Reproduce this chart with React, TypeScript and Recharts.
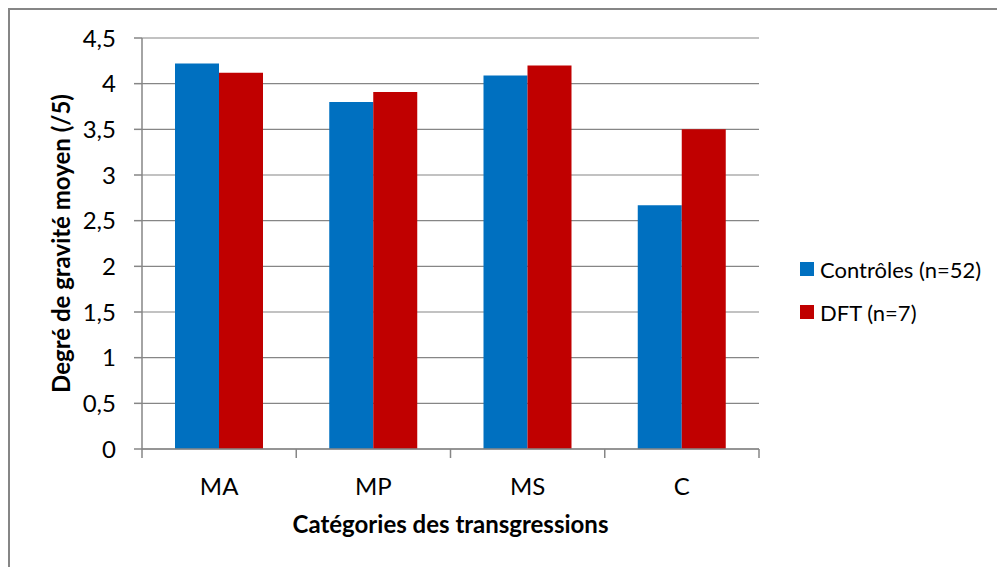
import React from 'react';
import { BarChart, Bar, XAxis, YAxis, CartesianGrid } from 'recharts';

const categories = ['MA', 'MP', 'MS', 'C'];
const controles = [4.22, 3.8, 4.09, 2.67];
const dft = [4.12, 3.91, 4.2, 3.5];
const yTicks = [0, 0.5, 1, 1.5, 2, 2.5, 3, 3.5, 4, 4.5];
// boundaries (integers) get a tick mark, centres (halves) get the category name
const xTicks = [0, 0.5, 1, 1.5, 2, 2.5, 3, 3.5, 4];

const seriesNames = ['Contrôles (n=52)', 'DFT (n=7)'];
const seriesColors = ['#0070C0', '#C00000'];

const data = categories.map((cat, i) => ({
  cat,
  idx: i + 0.5,
  controles: controles[i],
  dft: dft[i],
}));

const FONT = 'Lato, "Open Sans", sans-serif';
const AXIS_GREY = '#868686';
const AXIS_Y = 449;

const CatTick = (props: any) => {
  const { x, payload } = props;
  const v = payload.value as number;
  if (Number.isInteger(v)) {
    return <line x1={x} x2={x} y1={AXIS_Y} y2={AXIS_Y + 9} stroke={AXIS_GREY} strokeWidth={1.5} />;
  }
  return (
    <text
      x={x}
      y={AXIS_Y + 36}
      textAnchor="middle"
      dominantBaseline="central"
      fontFamily={FONT}
      fontSize={24}
      fill="#000"
    >
      {categories[Math.floor(v)]}
    </text>
  );
};

const YTitle = (props: any) => {
  const vb = props.viewBox || {};
  const cy = vb.y + vb.height / 2;
  const cx = 60;
  return (
    <text
      x={cx}
      y={cy}
      transform={`rotate(-90, ${cx}, ${cy})`}
      textAnchor="middle"
      dominantBaseline="central"
      fontFamily={FONT}
      fontWeight="bold"
      fontSize={24}
      fill="#000"
    >
      Degré de gravité moyen (/5)
    </text>
  );
};

const XTitle = (props: any) => {
  const vb = props.viewBox || {};
  return (
    <text
      x={vb.x + vb.width / 2}
      y={523}
      textAnchor="middle"
      dominantBaseline="central"
      fontFamily={FONT}
      fontWeight="bold"
      fontSize={24}
      fill="#000"
    >
      Catégories des transgressions
    </text>
  );
};

const App: React.FC = () => {
  return (
    <div
      style={{
        position: 'absolute',
        left: 0,
        top: 0,
        width: 997,
        height: 567,
        overflow: 'hidden',
        background: '#fff',
      }}
    >
      <div
        style={{
          position: 'absolute',
          left: 8,
          top: 8,
          width: 1100,
          height: 700,
          borderLeft: `2px solid ${AXIS_GREY}`,
          borderTop: `2px solid ${AXIS_GREY}`,
        }}
      />
      <BarChart
        width={997}
        height={567}
        data={data}
        margin={{ top: 38, right: 238, left: 82, bottom: 38 }}
        barGap={0}
        style={{ position: 'absolute', left: 0, top: 0 }}
      >
        <CartesianGrid
          horizontal={true}
          vertical={false}
          stroke={AXIS_GREY}
          strokeWidth={1.2}
        />
        <XAxis
          type="number"
          dataKey="idx"
          domain={[0, 4]}
          ticks={xTicks}
          interval={0}
          height={80}
          axisLine={{ stroke: AXIS_GREY, strokeWidth: 1.5 }}
          tickLine={false}
          tick={<CatTick />}
          label={<XTitle />}
        />
        <YAxis
          width={60}
          domain={[0, 4.5]}
          ticks={yTicks}
          interval={0}
          tickSize={8}
          tickMargin={18}
          axisLine={{ stroke: AXIS_GREY, strokeWidth: 1.5 }}
          tickLine={{ stroke: AXIS_GREY, strokeWidth: 1.5 }}
          tick={{ fill: '#000', fontSize: 24, fontFamily: FONT }}
          tickFormatter={(v: number) => String(v).replace('.', ',')}
          label={<YTitle />}
        />
        <Bar
          dataKey="controles"
          name={seriesNames[0]}
          fill={seriesColors[0]}
          barSize={44}
          isAnimationActive={false}
        />
        <Bar
          dataKey="dft"
          name={seriesNames[1]}
          fill={seriesColors[1]}
          barSize={44}
          isAnimationActive={false}
        />
      </BarChart>
      <div
        style={{
          position: 'absolute',
          left: 800,
          top: 254,
          fontFamily: FONT,
          fontSize: 22,
          color: '#000',
        }}
      >
        {seriesNames.map((name, i) => (
          <div
            key={name}
            style={{
              display: 'flex',
              alignItems: 'center',
              height: 30,
              marginBottom: i === 0 ? 13 : 0,
            }}
          >
            <span
              style={{
                display: 'inline-block',
                width: 14,
                height: 14,
                background: seriesColors[i],
                marginRight: 6,
              }}
            />
            <span style={{ whiteSpace: 'nowrap' }}>{name}</span>
          </div>
        ))}
      </div>
    </div>
  );
};

export default App;
